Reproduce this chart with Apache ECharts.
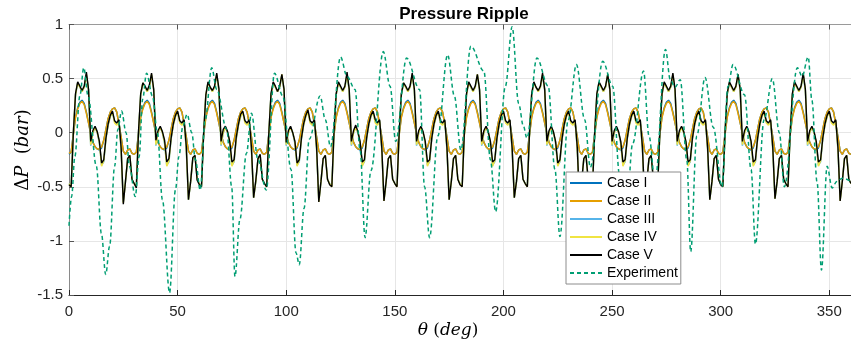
<!DOCTYPE html>
<html>
<head>
<meta charset="utf-8">
<script src="https://cdn.jsdelivr.net/npm/echarts@6/dist/echarts.min.js"></script>
<style>html,body{margin:0;padding:0;background:#fff;}#c{width:851px;height:346px;}</style>
</head>
<body>
<div id="c"></div>
<script>
// ---- data (theta step 1 deg, 0..360) ----
const caseI = [
-0.20,-0.18,-0.01,0.15,0.23,0.28,0.30,0.27,0.19,0.09,-0.01,-0.09,-0.13,-0.15,-0.16,-0.14,-0.07,0.03,0.13,0.19,0.22,0.23,0.19,0.08,-0.04,-0.17,-0.20,-0.16,-0.15,-0.19,
-0.20,-0.18,-0.01,0.15,0.23,0.28,0.30,0.27,0.19,0.09,-0.01,-0.09,-0.13,-0.15,-0.16,-0.14,-0.07,0.03,0.13,0.19,0.22,0.23,0.19,0.08,-0.04,-0.17,-0.20,-0.16,-0.15,-0.19,
-0.20,-0.18,-0.01,0.15,0.23,0.28,0.30,0.27,0.19,0.09,-0.01,-0.09,-0.13,-0.15,-0.16,-0.14,-0.07,0.03,0.13,0.19,0.22,0.23,0.19,0.08,-0.04,-0.17,-0.20,-0.16,-0.15,-0.19,
-0.20,-0.18,-0.01,0.15,0.23,0.28,0.30,0.27,0.19,0.09,-0.01,-0.09,-0.13,-0.15,-0.16,-0.14,-0.07,0.03,0.13,0.19,0.22,0.23,0.19,0.08,-0.04,-0.17,-0.20,-0.16,-0.15,-0.19,
-0.20,-0.18,-0.01,0.15,0.23,0.28,0.30,0.27,0.19,0.09,-0.01,-0.09,-0.13,-0.15,-0.16,-0.14,-0.07,0.03,0.13,0.19,0.22,0.23,0.19,0.08,-0.04,-0.17,-0.20,-0.16,-0.15,-0.19,
-0.20,-0.18,-0.01,0.15,0.23,0.28,0.30,0.27,0.19,0.09,-0.01,-0.09,-0.13,-0.15,-0.16,-0.14,-0.07,0.03,0.13,0.19,0.22,0.23,0.19,0.08,-0.04,-0.17,-0.20,-0.16,-0.15,-0.19,
-0.20,-0.18,-0.01,0.15,0.23,0.28,0.30,0.27,0.19,0.09,-0.01,-0.09,-0.13,-0.15,-0.16,-0.14,-0.07,0.03,0.13,0.19,0.22,0.23,0.19,0.08,-0.04,-0.17,-0.20,-0.16,-0.15,-0.19,
-0.20,-0.18,-0.01,0.15,0.23,0.28,0.30,0.27,0.19,0.09,-0.01,-0.09,-0.13,-0.15,-0.16,-0.14,-0.07,0.03,0.13,0.19,0.22,0.23,0.19,0.08,-0.04,-0.17,-0.20,-0.16,-0.15,-0.19,
-0.20,-0.18,-0.01,0.15,0.23,0.28,0.30,0.27,0.19,0.09,-0.01,-0.09,-0.13,-0.15,-0.16,-0.14,-0.07,0.03,0.13,0.19,0.22,0.23,0.19,0.08,-0.04,-0.17,-0.20,-0.16,-0.15,-0.19,
-0.20,-0.18,-0.01,0.15,0.23,0.28,0.30,0.27,0.19,0.09,-0.01,-0.09,-0.13,-0.15,-0.16,-0.14,-0.07,0.03,0.13,0.19,0.22,0.23,0.19,0.08,-0.04,-0.17,-0.20,-0.16,-0.15,-0.19,
-0.20,-0.18,-0.01,0.15,0.23,0.28,0.30,0.27,0.19,0.09,-0.01,-0.09,-0.13,-0.15,-0.16,-0.14,-0.07,0.03,0.13,0.19,0.22,0.23,0.19,0.08,-0.04,-0.17,-0.20,-0.16,-0.15,-0.19,
-0.20,-0.18,-0.01,0.15,0.23,0.28,0.30,0.27,0.19,0.09,-0.01,-0.09,-0.13,-0.15,-0.16,-0.14,-0.07,0.03,0.13,0.19,0.22,0.23,0.19,0.08,-0.04,-0.17,-0.20,-0.16,-0.15,-0.19,
-0.20];
const caseII = [
-0.19,-0.18,-0.02,0.14,0.22,0.27,0.29,0.26,0.18,0.09,-0.01,-0.09,-0.13,-0.15,-0.15,-0.13,-0.07,0.03,0.13,0.19,0.22,0.23,0.19,0.08,-0.04,-0.17,-0.20,-0.16,-0.15,-0.19,
-0.20,-0.18,-0.02,0.14,0.22,0.27,0.29,0.26,0.18,0.09,-0.01,-0.09,-0.13,-0.15,-0.15,-0.13,-0.07,0.03,0.13,0.19,0.22,0.23,0.19,0.08,-0.04,-0.17,-0.20,-0.16,-0.15,-0.19,
-0.20,-0.18,-0.02,0.14,0.22,0.27,0.29,0.26,0.18,0.09,-0.01,-0.09,-0.13,-0.15,-0.15,-0.13,-0.07,0.03,0.13,0.19,0.22,0.23,0.19,0.08,-0.04,-0.17,-0.20,-0.16,-0.15,-0.19,
-0.20,-0.18,-0.02,0.14,0.22,0.27,0.29,0.26,0.18,0.09,-0.01,-0.09,-0.13,-0.15,-0.15,-0.13,-0.07,0.03,0.13,0.19,0.22,0.23,0.19,0.08,-0.04,-0.17,-0.20,-0.16,-0.15,-0.19,
-0.20,-0.18,-0.02,0.14,0.22,0.27,0.29,0.26,0.18,0.09,-0.01,-0.09,-0.13,-0.15,-0.15,-0.13,-0.07,0.03,0.13,0.19,0.22,0.23,0.19,0.08,-0.04,-0.17,-0.20,-0.16,-0.15,-0.19,
-0.20,-0.18,-0.02,0.14,0.22,0.27,0.29,0.26,0.18,0.09,-0.01,-0.09,-0.13,-0.15,-0.15,-0.13,-0.07,0.03,0.13,0.19,0.22,0.23,0.19,0.08,-0.04,-0.17,-0.20,-0.16,-0.15,-0.19,
-0.20,-0.18,-0.02,0.14,0.22,0.27,0.29,0.26,0.18,0.09,-0.01,-0.09,-0.13,-0.15,-0.15,-0.13,-0.07,0.03,0.13,0.19,0.22,0.23,0.19,0.08,-0.04,-0.17,-0.20,-0.16,-0.15,-0.19,
-0.20,-0.18,-0.02,0.14,0.22,0.27,0.29,0.26,0.18,0.09,-0.01,-0.09,-0.13,-0.15,-0.15,-0.13,-0.07,0.03,0.13,0.19,0.22,0.23,0.19,0.08,-0.04,-0.17,-0.20,-0.16,-0.15,-0.19,
-0.20,-0.18,-0.02,0.14,0.22,0.27,0.29,0.26,0.18,0.09,-0.01,-0.09,-0.13,-0.15,-0.15,-0.13,-0.07,0.03,0.13,0.19,0.22,0.23,0.19,0.08,-0.04,-0.17,-0.20,-0.16,-0.15,-0.19,
-0.20,-0.18,-0.02,0.14,0.22,0.27,0.29,0.26,0.18,0.09,-0.01,-0.09,-0.13,-0.15,-0.15,-0.13,-0.07,0.03,0.13,0.19,0.22,0.23,0.19,0.08,-0.04,-0.17,-0.20,-0.16,-0.15,-0.19,
-0.20,-0.18,-0.02,0.14,0.22,0.27,0.29,0.26,0.18,0.09,-0.01,-0.09,-0.13,-0.15,-0.15,-0.13,-0.07,0.03,0.13,0.19,0.22,0.23,0.19,0.08,-0.04,-0.17,-0.20,-0.16,-0.15,-0.19,
-0.20,-0.18,-0.02,0.14,0.22,0.27,0.29,0.26,0.18,0.09,-0.01,-0.09,-0.13,-0.15,-0.15,-0.13,-0.07,0.03,0.13,0.19,0.22,0.23,0.19,0.08,-0.04,-0.17,-0.20,-0.16,-0.15,-0.19,
-0.20];
const caseIII = [
-0.47,-0.49,0.00,0.35,0.46,0.42,0.38,0.42,0.53,0.39,-0.12,0.00,0.05,0.00,-0.10,-0.30,-0.27,-0.06,0.07,0.15,0.19,0.10,0.08,0.11,-0.16,-0.64,-0.45,-0.24,-0.21,-0.43,
-0.47,-0.49,0.00,0.35,0.46,0.42,0.38,0.42,0.53,0.39,-0.12,0.00,0.05,0.00,-0.10,-0.30,-0.27,-0.06,0.07,0.15,0.19,0.10,0.08,0.11,-0.16,-0.62,-0.45,-0.24,-0.21,-0.43,
-0.47,-0.49,0.00,0.35,0.46,0.42,0.38,0.42,0.53,0.39,-0.12,0.00,0.05,0.00,-0.10,-0.30,-0.27,-0.06,0.07,0.15,0.19,0.10,0.08,0.11,-0.16,-0.60,-0.45,-0.24,-0.21,-0.43,
-0.47,-0.49,0.00,0.35,0.46,0.42,0.38,0.42,0.53,0.39,-0.12,0.00,0.05,0.00,-0.10,-0.30,-0.27,-0.06,0.07,0.15,0.19,0.10,0.08,0.11,-0.16,-0.63,-0.45,-0.24,-0.21,-0.43,
-0.47,-0.49,0.00,0.35,0.46,0.42,0.38,0.42,0.53,0.39,-0.12,0.00,0.05,0.00,-0.10,-0.30,-0.27,-0.06,0.07,0.15,0.19,0.10,0.08,0.11,-0.16,-0.62,-0.45,-0.24,-0.21,-0.43,
-0.47,-0.49,0.00,0.35,0.46,0.42,0.38,0.42,0.53,0.39,-0.12,0.00,0.05,0.00,-0.10,-0.30,-0.27,-0.06,0.07,0.15,0.19,0.10,0.08,0.11,-0.16,-0.62,-0.45,-0.24,-0.21,-0.43,
-0.47,-0.49,0.00,0.35,0.46,0.42,0.38,0.42,0.53,0.39,-0.12,0.00,0.05,0.00,-0.10,-0.30,-0.27,-0.06,0.07,0.15,0.19,0.10,0.08,0.11,-0.16,-0.60,-0.45,-0.24,-0.21,-0.43,
-0.47,-0.49,0.00,0.35,0.46,0.42,0.38,0.42,0.53,0.39,-0.12,0.00,0.05,0.00,-0.10,-0.30,-0.27,-0.06,0.07,0.15,0.19,0.10,0.08,0.11,-0.16,-0.63,-0.45,-0.24,-0.21,-0.43,
-0.47,-0.49,0.00,0.35,0.46,0.42,0.38,0.42,0.53,0.39,-0.12,0.00,0.05,0.00,-0.10,-0.30,-0.27,-0.06,0.07,0.15,0.19,0.10,0.08,0.11,-0.16,-0.62,-0.45,-0.24,-0.21,-0.43,
-0.47,-0.49,0.00,0.35,0.46,0.42,0.38,0.42,0.53,0.39,-0.12,0.00,0.05,0.00,-0.10,-0.30,-0.27,-0.06,0.07,0.15,0.19,0.10,0.08,0.11,-0.16,-0.62,-0.45,-0.24,-0.21,-0.43,
-0.47,-0.49,0.00,0.35,0.46,0.42,0.38,0.42,0.53,0.39,-0.12,0.00,0.05,0.00,-0.10,-0.30,-0.27,-0.06,0.07,0.15,0.19,0.10,0.08,0.11,-0.16,-0.61,-0.45,-0.24,-0.21,-0.43,
-0.47,-0.49,0.00,0.35,0.46,0.42,0.38,0.42,0.53,0.39,-0.12,0.00,0.05,0.00,-0.10,-0.30,-0.27,-0.06,0.07,0.15,0.19,0.10,0.08,0.11,-0.16,-0.62,-0.45,-0.24,-0.21,-0.43,
-0.47];
const caseIV = [
-0.47,-0.50,0.00,0.35,0.46,0.42,0.38,0.42,0.54,0.39,-0.11,0.00,0.05,0.00,-0.09,-0.31,-0.26,-0.05,0.07,0.15,0.19,0.09,0.07,0.11,-0.15,-0.65,-0.45,-0.24,-0.21,-0.43,
-0.47,-0.50,0.00,0.35,0.46,0.42,0.38,0.42,0.54,0.39,-0.11,0.00,0.05,0.00,-0.09,-0.31,-0.26,-0.05,0.07,0.15,0.19,0.09,0.07,0.11,-0.15,-0.62,-0.45,-0.24,-0.21,-0.43,
-0.47,-0.50,0.00,0.35,0.46,0.42,0.38,0.42,0.54,0.39,-0.11,0.00,0.05,0.00,-0.09,-0.31,-0.26,-0.05,0.07,0.15,0.19,0.09,0.07,0.11,-0.15,-0.60,-0.45,-0.24,-0.21,-0.43,
-0.47,-0.50,0.00,0.35,0.46,0.42,0.38,0.42,0.54,0.39,-0.11,0.00,0.05,0.00,-0.09,-0.31,-0.26,-0.05,0.07,0.15,0.19,0.09,0.07,0.11,-0.15,-0.64,-0.45,-0.24,-0.21,-0.43,
-0.47,-0.50,0.00,0.35,0.46,0.42,0.38,0.42,0.54,0.39,-0.11,0.00,0.05,0.00,-0.09,-0.31,-0.26,-0.05,0.07,0.15,0.19,0.09,0.07,0.11,-0.15,-0.63,-0.45,-0.24,-0.21,-0.43,
-0.47,-0.50,0.00,0.35,0.46,0.42,0.38,0.42,0.54,0.39,-0.11,0.00,0.05,0.00,-0.09,-0.31,-0.26,-0.05,0.07,0.15,0.19,0.09,0.07,0.11,-0.15,-0.62,-0.45,-0.24,-0.21,-0.43,
-0.47,-0.50,0.00,0.35,0.46,0.42,0.38,0.42,0.54,0.39,-0.11,0.00,0.05,0.00,-0.09,-0.31,-0.26,-0.05,0.07,0.15,0.19,0.09,0.07,0.11,-0.15,-0.60,-0.45,-0.24,-0.21,-0.43,
-0.47,-0.50,0.00,0.35,0.46,0.42,0.38,0.42,0.54,0.39,-0.11,0.00,0.05,0.00,-0.09,-0.31,-0.26,-0.05,0.07,0.15,0.19,0.09,0.07,0.11,-0.15,-0.64,-0.45,-0.24,-0.21,-0.43,
-0.47,-0.50,0.00,0.35,0.46,0.42,0.38,0.42,0.54,0.39,-0.11,0.00,0.05,0.00,-0.09,-0.31,-0.26,-0.05,0.07,0.15,0.19,0.09,0.07,0.11,-0.15,-0.63,-0.45,-0.24,-0.21,-0.43,
-0.47,-0.50,0.00,0.35,0.46,0.42,0.38,0.42,0.54,0.39,-0.11,0.00,0.05,0.00,-0.09,-0.31,-0.26,-0.05,0.07,0.15,0.19,0.09,0.07,0.11,-0.15,-0.62,-0.45,-0.24,-0.21,-0.43,
-0.47,-0.50,0.00,0.35,0.46,0.42,0.38,0.42,0.54,0.39,-0.11,0.00,0.05,0.00,-0.09,-0.31,-0.26,-0.05,0.07,0.15,0.19,0.09,0.07,0.11,-0.15,-0.61,-0.45,-0.24,-0.21,-0.43,
-0.47,-0.50,0.00,0.35,0.46,0.42,0.38,0.42,0.54,0.39,-0.11,0.00,0.05,0.00,-0.09,-0.31,-0.26,-0.05,0.07,0.15,0.19,0.09,0.07,0.11,-0.15,-0.63,-0.45,-0.24,-0.21,-0.43,
-0.47];
const caseV = [
-0.48,-0.50,0.00,0.36,0.47,0.43,0.39,0.43,0.56,0.40,-0.08,0.02,0.06,0.01,-0.08,-0.28,-0.25,-0.05,0.08,0.16,0.20,0.11,0.09,0.12,-0.14,-0.66,-0.45,-0.24,-0.21,-0.43,
-0.47,-0.51,0.01,0.36,0.46,0.43,0.39,0.44,0.55,0.40,-0.07,0.02,0.06,0.01,-0.07,-0.27,-0.24,-0.05,0.08,0.16,0.20,0.11,0.09,0.12,-0.13,-0.62,-0.45,-0.23,-0.21,-0.44,
-0.48,-0.50,0.00,0.35,0.47,0.42,0.39,0.43,0.55,0.41,-0.08,0.03,0.06,0.01,-0.08,-0.27,-0.25,-0.04,0.08,0.17,0.20,0.11,0.09,0.12,-0.14,-0.60,-0.44,-0.24,-0.20,-0.43,
-0.47,-0.50,0.00,0.36,0.47,0.43,0.38,0.43,0.54,0.40,-0.09,0.02,0.06,0.00,-0.08,-0.28,-0.25,-0.05,0.08,0.16,0.21,0.11,0.09,0.12,-0.14,-0.64,-0.45,-0.24,-0.21,-0.43,
-0.48,-0.50,0.01,0.36,0.47,0.43,0.39,0.43,0.56,0.40,-0.08,0.02,0.07,0.01,-0.08,-0.27,-0.25,-0.05,0.08,0.16,0.20,0.12,0.09,0.12,-0.14,-0.63,-0.45,-0.24,-0.21,-0.43,
-0.47,-0.50,0.00,0.36,0.46,0.43,0.39,0.43,0.55,0.40,-0.08,0.02,0.06,0.01,-0.08,-0.27,-0.25,-0.05,0.08,0.16,0.20,0.11,0.09,0.12,-0.14,-0.62,-0.45,-0.24,-0.21,-0.43,
-0.48,-0.50,0.00,0.36,0.47,0.43,0.39,0.43,0.54,0.40,-0.08,0.02,0.06,0.01,-0.08,-0.27,-0.25,-0.05,0.08,0.16,0.20,0.11,0.09,0.12,-0.14,-0.60,-0.45,-0.24,-0.21,-0.43,
-0.47,-0.50,0.00,0.36,0.47,0.42,0.39,0.43,0.55,0.40,-0.08,0.02,0.06,0.01,-0.08,-0.28,-0.25,-0.05,0.08,0.16,0.20,0.11,0.09,0.12,-0.14,-0.64,-0.45,-0.24,-0.21,-0.43,
-0.48,-0.50,0.00,0.36,0.47,0.43,0.39,0.43,0.54,0.40,-0.08,0.02,0.06,0.01,-0.08,-0.27,-0.25,-0.05,0.08,0.16,0.20,0.11,0.09,0.12,-0.14,-0.63,-0.45,-0.24,-0.21,-0.43,
-0.47,-0.50,0.00,0.36,0.47,0.43,0.39,0.43,0.55,0.40,-0.08,0.02,0.06,0.01,-0.08,-0.27,-0.25,-0.05,0.08,0.16,0.20,0.11,0.09,0.12,-0.14,-0.62,-0.45,-0.24,-0.21,-0.43,
-0.48,-0.50,0.00,0.36,0.47,0.43,0.39,0.43,0.54,0.40,-0.08,0.02,0.06,0.01,-0.08,-0.27,-0.25,-0.05,0.08,0.16,0.20,0.11,0.09,0.12,-0.14,-0.61,-0.45,-0.24,-0.21,-0.43,
-0.47,-0.50,0.00,0.36,0.47,0.43,0.39,0.43,0.55,0.40,-0.08,0.02,0.06,0.01,-0.08,-0.27,-0.25,-0.05,0.08,0.16,0.20,0.11,0.09,0.12,-0.14,-0.63,-0.45,-0.24,-0.21,-0.43,
-0.47];
const theta = caseV.map(function (v, i) { return i; });

const expTheta = [0,1.2,2.7,5,6.8,8.8,12.6,14.9,16.9,18.7,21,22.5,24.2,26.3,27.8,30.5,32.3,33.9,35.7,38.4,40.7,43,46.3,49,50.6,52.4,54.4,56.5,58.2,60.4,62.7,65.7,68,72.6,74.9,76.4,78.7,81.7,84,87,90.8,94.6,98.4,102.2,104.5,106,108.2,110.6,115.6,118,120.4,125,128,131.7,134,136.3,139,144.7,147.8,150.4,155.4,161.4,163.7,166,169.8,174.3,177.4,180.4,185,191,194,196.4,200.9,204,207,209.2,210.8,215.4,220.6,223.7,226,229.8,233.6,237.4,240,245.7,250.3,253.5,255.8,259.5,264.5,267,269.8,274.6,276.8,279,281.4,284.4,286.2,289,292.8,296.6,300.6,303.4,305.7,311,314,316,320,323.8,327,329.3,335.3,337.5,340.3,342,344.4,346.4,349,351.3,353.5,356,360];
const expDP = [-0.86,-0.59,-0.22,0.34,0.60,0.34,-0.31,-0.93,-1.31,-1.05,-0.31,0.03,0.20,0.00,-0.31,-0.59,-0.22,0.31,0.55,0.34,0.00,-0.62,-1.48,-0.53,-0.22,0.06,0.17,0.00,-0.25,-0.53,0.12,0.60,0.40,0.03,-0.50,-1.33,-0.80,-0.19,0.18,-0.25,-0.53,0.55,0.34,-0.34,-1.11,-1.22,-0.70,-0.06,0.34,0.12,-0.13,0.70,0.52,0.40,-0.16,-0.97,-0.35,0.75,0.43,-0.08,0.69,0.40,-0.50,-0.97,-0.03,0.72,0.34,-0.16,0.80,0.57,-0.25,-0.73,0.43,0.98,0.27,0.06,-0.05,0.69,0.43,-0.34,-0.96,0.12,0.63,0.12,-0.32,0.66,0.43,-0.40,-1.05,-0.10,0.57,-0.03,-0.45,0.77,0.49,0.42,0.49,-0.25,-1.10,-0.03,0.51,0.05,-0.50,0.43,0.63,0.35,-0.34,-1.03,0.12,0.50,0.00,-0.50,0.60,0.52,0.70,0.30,-0.46,-1.27,-0.31,-0.51,-0.45,-0.42,-0.45];

const xTicks = {min: 0, max: 360, interval: 50};
const yTicks = {min: -1.5, max: 1, interval: 0.5};

const seriesNames = ['Case I', 'Case II', 'Case III', 'Case IV', 'Case V', 'Experiment'];
const seriesColors = ['#0072BD', '#E69F00', '#56B4E9', '#F0E442', '#000000', '#009E73'];

function pairs(xs, ys) { return ys.map(function (y, i) { return [xs[i], y]; }); }

const caseData = [caseI, caseII, caseIII, caseIV, caseV];
const series = caseData.map(function (arr, k) {
  return {
    name: seriesNames[k], type: 'line', data: pairs(theta, arr),
    showSymbol: false, symbol: 'none', smooth: false,
    lineStyle: {color: seriesColors[k], width: k === 4 ? 1.4 : 1.5},
    itemStyle: {color: seriesColors[k]}
  };
});
series.push({
  name: 'Experiment', type: 'line', data: pairs(expTheta, expDP),
  showSymbol: false, symbol: 'none', smooth: 0.35, smoothMonotone: 'x',
  lineStyle: {color: seriesColors[5], width: 1.5, type: [4, 3]},
  itemStyle: {color: seriesColors[5]}
});

const tickFont = {fontFamily: '"Liberation Sans", Arial, sans-serif', fontSize: 15, color: '#262626'};
const chart = echarts.init(document.getElementById('c'), null, {renderer: 'canvas'});
chart.setOption({
  animation: false,
  backgroundColor: '#ffffff',
  grid: {left: 69, top: 24.5, right: -8, bottom: 51, containLabel: false},
  xAxis: [{
    type: 'value', position: 'bottom', min: xTicks.min, max: xTicks.max, interval: xTicks.interval,
    axisLine: {show: true, onZero: false, lineStyle: {color: '#262626', width: 1}},
    axisTick: {show: true, inside: true, length: 5, lineStyle: {color: '#262626'}},
    axisLabel: Object.assign({margin: 9}, tickFont),
    splitLine: {show: true, lineStyle: {color: '#e6e6e6', width: 1}}
  }, {
    type: 'value', position: 'top', min: xTicks.min, max: xTicks.max, interval: xTicks.interval,
    axisLine: {show: true, onZero: false, lineStyle: {color: '#9a9a9a', width: 1}},
    axisTick: {show: true, inside: true, length: 5, lineStyle: {color: '#555'}},
    axisLabel: {show: false}, splitLine: {show: false}
  }],
  yAxis: {
    type: 'value', min: yTicks.min, max: yTicks.max, interval: yTicks.interval,
    axisLine: {show: true, onZero: false, lineStyle: {color: '#8a8a8a', width: 1}},
    axisTick: {show: true, inside: true, length: 5, lineStyle: {color: '#555'}},
    axisLabel: Object.assign({margin: 6}, tickFont),
    splitLine: {show: true, lineStyle: {color: '#e6e6e6', width: 1}}
  },
  legend: {
    data: seriesNames, orient: 'vertical', left: 566, top: 172, z: 50,
    itemWidth: 32, itemHeight: 14, itemGap: 4,
    padding: [4, 3, 4, 3],
    backgroundColor: '#ffffff', borderColor: '#8c8c8c', borderWidth: 1, borderRadius: 0,
    itemStyle: {opacity: 0, borderWidth: 0},
    textStyle: {fontFamily: '"Liberation Sans", Arial, sans-serif', fontSize: 14, color: '#000'}
  },
  graphic: [
    {type: 'text', x: 464, y: 14, z: 100,
     style: {text: 'Pressure Ripple', fill: '#000', align: 'center', verticalAlign: 'middle',
             fontFamily: '"Liberation Sans", Arial, sans-serif', fontSize: 17, fontWeight: 'bold'}},
    {type: 'text', x: 448, y: 331, z: 100,
     style: {text: '{i|θ}{n| (}{i|deg}{n|)}', align: 'center', verticalAlign: 'middle', fill: '#000',
             rich: {i: {fontFamily: '"DejaVu Serif", serif', fontStyle: 'italic', fontSize: 17, fill: '#000'},
                    n: {fontFamily: '"DejaVu Serif", serif', fontSize: 17, fill: '#000'}}}},
    {type: 'text', x: 23, y: 150, rotation: Math.PI / 2, z: 100,
     style: {text: '{n|Δ}{i|P}{n|  (}{i|bar}{n|)}', align: 'center', verticalAlign: 'middle', fill: '#000',
             rich: {i: {fontFamily: '"DejaVu Serif", serif', fontStyle: 'italic', fontSize: 18, fill: '#000'},
                    n: {fontFamily: '"DejaVu Serif", serif', fontSize: 18, fill: '#000'}}}}
  ],
  series: series
});
</script>
</body>
</html>
